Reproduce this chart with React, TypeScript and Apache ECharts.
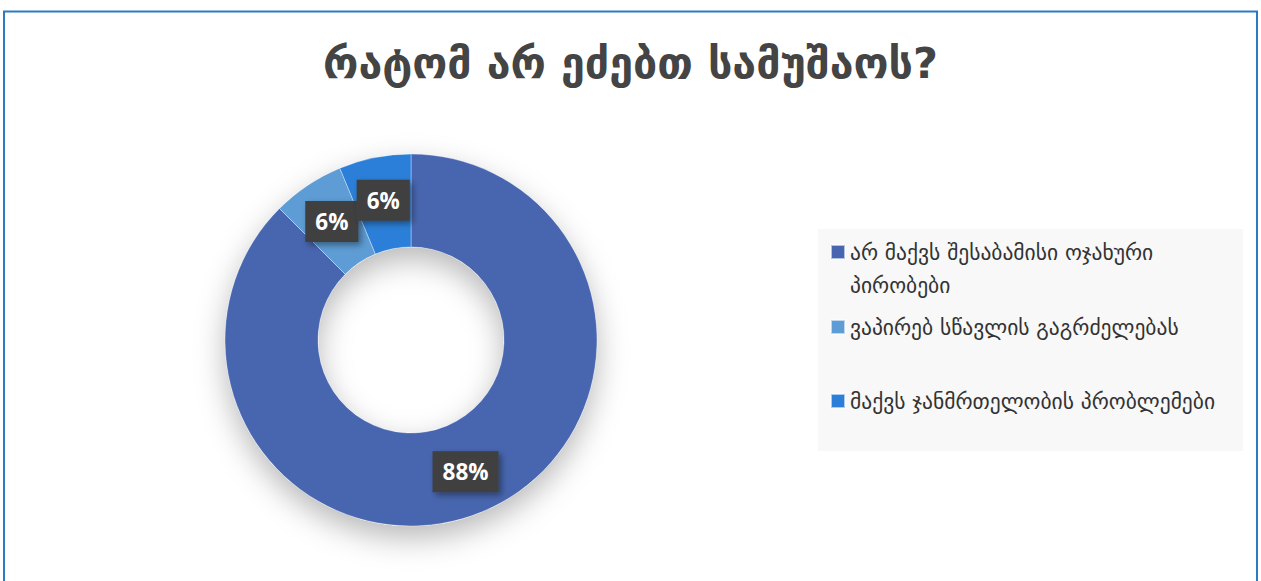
import React, { useEffect, useRef } from "react";
import * as echarts from "echarts";

const titleText = "რატომ არ ეძებთ სამუშაოს?";
const categories = [
  "არ მაქვს შესაბამისი ოჯახური პირობები",
  "ვაპირებ სწავლის გაგრძელებას",
  "მაქვს ჯანმრთელობის პრობლემები",
];
const values = [28, 2, 2];
const colors = ["#4866AF", "#5D9CD4", "#2B7FD8"];

export default function App() {
  const ref = useRef<HTMLDivElement>(null);
  useEffect(() => {
    if (!ref.current) return;
    const chart = echarts.init(ref.current, null, { renderer: "svg" });
    const total = values.reduce((a, b) => a + b, 0);
    const geo = "DejaVu Sans";
    const iconTops = [245, 320, 394];
    chart.setOption({
      animation: false,
      backgroundColor: "#ffffff",
      title: {
        text: titleText,
        left: "center",
        top: 36,
        textStyle: { fontFamily: geo, fontSize: 43, fontWeight: "bold", color: "#444444" },
      },
      graphic: [
        {
          type: "rect",
          shape: { x: 4, y: 11.5, width: 1253, height: 600 },
          style: { fill: "none", stroke: "#2F78C4", lineWidth: 2 },
          silent: true,
        },
        {
          type: "rect",
          shape: { x: 818, y: 229, width: 425, height: 222 },
          style: { fill: "#F8F8F8" },
          silent: true,
          z: -1,
        },
      ],
      legend: categories.map((c, i) => ({
        data: [c],
        orient: "vertical",
        left: 830,
        top: i === 0 ? iconTops[i] - 42.5 : iconTops[i] - 9.5,
        padding: 0,
        itemWidth: 14,
        itemHeight: 14,
        itemGap: 0,
        icon: "rect",
        selectedMode: false,
        formatter: (n: string) =>
          n === categories[0] ? "\nარ მაქვს შესაბამისი ოჯახური\nპირობები" : n,
        textStyle: {
          fontFamily: geo,
          fontSize: 21.5,
          color: "#333333",
          lineHeight: 33,
        },
      })),
      series: [
        {
          type: "pie",
          name: "shadow",
          silent: true,
          center: [411, 340],
          radius: [93, 186],
          label: { show: false },
          itemStyle: {
            color: "#ffffff",
            shadowBlur: 30,
            shadowOffsetY: 12,
            shadowColor: "rgba(0,0,0,0.28)",
          },
          data: [{ name: "_shadow", value: total }],
        },
        {
          type: "pie",
          center: [411, 340],
          radius: [93, 186],
          startAngle: 90,
          clockwise: true,
          avoidLabelOverlap: false,
          labelLayout: { hideOverlap: false },
          itemStyle: { borderColor: "rgba(255,255,255,0.6)", borderWidth: 0.6 },
          label: {
            show: true,
            position: "inside",
            formatter: (p: any) => Math.round((p.value / total) * 100) + "%",
            color: "#ffffff",
            fontFamily: "Open Sans",
            fontWeight: "bold",
            fontSize: 22.5,
            lineHeight: 25,
            backgroundColor: "#3F3F3F",
            padding: [9, 10, 7, 10],
            shadowBlur: 6,
            shadowOffsetX: 3,
            shadowOffsetY: 3,
            shadowColor: "rgba(0,0,0,0.4)",
          },
          labelLine: { show: false },
          emphasis: { disabled: true },
          data: categories.map((c, i) => ({
            name: c,
            value: values[i],
            itemStyle: { color: colors[i] },
          })),
        },
      ],
    });
    return () => chart.dispose();
  }, []);
  return (
    <div
      ref={ref}
      style={{ position: "fixed", left: 0, top: 0, width: 1261, height: 581 }}
    />
  );
}
